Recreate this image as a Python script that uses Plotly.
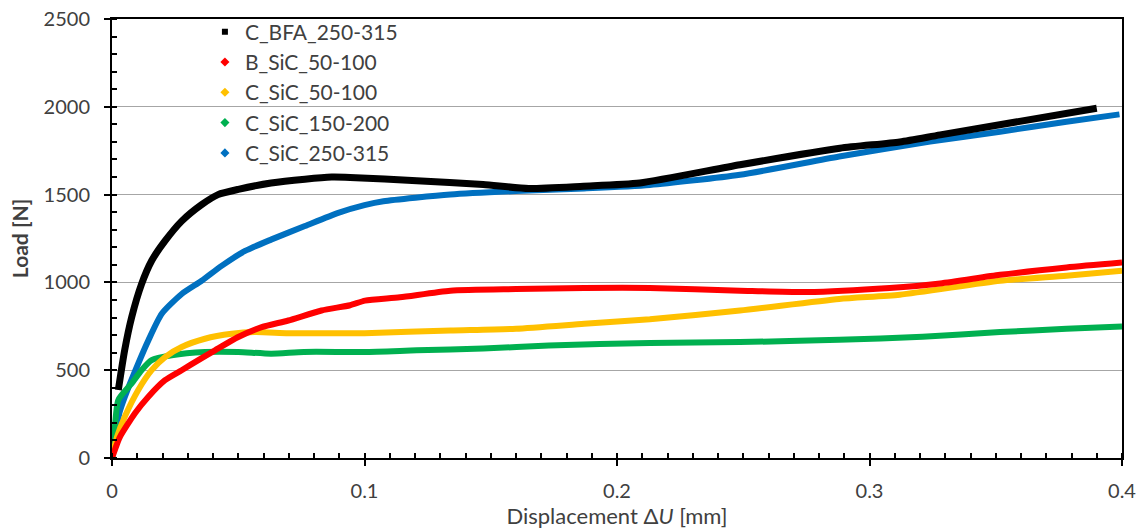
import plotly.graph_objects as go

# ---------------- data ----------------
bfa_x = [0.0025, 0.005, 0.0078, 0.0117, 0.0157, 0.021, 0.0276, 0.0355, 0.042, 0.050, 0.063,
         0.0764, 0.087, 0.0943, 0.1207, 0.147, 0.165, 0.1867, 0.209, 0.2487, 0.2883, 0.312,
         0.328, 0.39]
bfa_y = [387, 613, 802, 990, 1123, 1236, 1349, 1443, 1500, 1530, 1566,
         1588, 1600, 1598, 1579, 1557, 1535, 1548, 1566, 1670, 1764, 1800,
         1840, 1992]

b50_x = [0.0, 0.002, 0.0032, 0.0091, 0.0144, 0.021, 0.0276, 0.0342, 0.0408, 0.050, 0.0593,
         0.0698, 0.083, 0.0943, 0.1002, 0.114, 0.134, 0.160, 0.187, 0.213, 0.2487, 0.275,
         0.308, 0.328, 0.3517, 0.378, 0.4]
b50_y = [0, 80, 122, 255, 349, 443, 500, 557, 613, 689, 745,
         783, 840, 870, 896, 915, 953, 962, 968, 968, 953, 945,
         968, 994, 1043, 1085, 1113]

c50_x = [0.0, 0.002, 0.0051, 0.0104, 0.0157, 0.021, 0.0276, 0.0368, 0.0474, 0.0566, 0.0698,
         0.0896, 0.100, 0.134, 0.160, 0.187, 0.213, 0.2487, 0.288, 0.312, 0.3517, 0.378, 0.4]
c50_y = [0, 120, 236, 387, 500, 575, 632, 679, 707, 717, 711,
         711, 711, 726, 736, 764, 790, 840, 906, 930, 1009, 1038, 1066]

c150_x = [0.0, 0.001, 0.0025, 0.0078, 0.0117, 0.0157, 0.0236, 0.0368, 0.050, 0.063, 0.076,
          0.100, 0.1207, 0.147, 0.173, 0.213, 0.2487, 0.288, 0.321, 0.3517, 0.378, 0.4]
c150_y = [0, 150, 330, 425, 500, 557, 585, 604, 604, 594, 604,
          604, 613, 623, 641, 655, 660, 673, 690, 717, 736, 749]

c250_x = [0.0, 0.0012, 0.003, 0.0051, 0.0104, 0.0144, 0.0197, 0.0276, 0.0355, 0.0434, 0.0527,
          0.0632, 0.0764, 0.0896, 0.100, 0.1075, 0.134, 0.160, 0.187, 0.213, 0.2487, 0.288,
          0.324, 0.3517, 0.378, 0.399]
c250_y = [0, 120, 260, 349, 538, 670, 821, 934, 1009, 1094, 1179,
          1245, 1321, 1396, 1440, 1462, 1500, 1520, 1535, 1555, 1613, 1717,
          1802, 1858, 1915, 1957]

series_names = ["C_BFA_250-315", "B_SiC_50-100", "C_SiC_50-100", "C_SiC_150-200", "C_SiC_250-315"]
series_colors = ["#000000", "#ff0000", "#ffc000", "#00b050", "#0070c0"]
series_symbols = ["square", "diamond", "diamond", "diamond", "diamond"]

x_ticks = [0, 0.1, 0.2, 0.3, 0.4]
y_ticks = [0, 500, 1000, 1500, 2000, 2500]

# ---------------- figure ----------------
fig = go.Figure()
data = [(bfa_x, bfa_y, 7), (b50_x, b50_y, 6), (c50_x, c50_y, 6), (c150_x, c150_y, 6), (c250_x, c250_y, 6)]
order = [4, 3, 2, 1, 0]
for i in order:
    xs, ys, w = data[i]
    fig.add_trace(go.Scatter(x=xs, y=ys, mode="lines",
                             line=dict(color=series_colors[i], width=w, shape="spline", smoothing=0.6),
                             showlegend=False, hoverinfo="skip"))
for i in range(5):
    fig.add_trace(go.Scatter(x=[None], y=[None], mode="markers", name=series_names[i],
                             legendgroup=series_names[i],
                             marker=dict(color=series_colors[i], symbol=series_symbols[i],
                                         size=6 if i == 0 else 7)))

font_family = "Lato, 'Open Sans', sans-serif"
fig.update_layout(
    width=1142, height=531,
    margin=dict(l=112, r=20, t=17, b=73),
    paper_bgcolor="white", plot_bgcolor="white",
    font=dict(family=font_family, size=20, color="#404040"),
    legend=dict(x=0.092, y=1.017, xanchor="left", yanchor="top",
                bgcolor="rgba(0,0,0,0)", font=dict(size=21, color="#404040"),
                tracegroupgap=3, itemwidth=30, traceorder="normal"),
    showlegend=True,
)
fig.update_xaxes(
    range=[0, 0.4], tickvals=x_ticks,
    showline=True, linecolor="black", linewidth=2, mirror=True,
    ticks="outside", ticklen=6, tickwidth=2, tickcolor="black",
    minor=dict(dtick=0.01, ticks="inside", ticklen=5, tickwidth=1.5, tickcolor="black", showgrid=False),
    showgrid=False, zeroline=False, automargin=False,
    ticklabelstandoff=8,
    title=dict(text="Displacement Δ<i>U</i> [mm]", font=dict(size=22, color="#404040"), standoff=2),
    tickfont=dict(size=20),
)
fig.update_yaxes(
    range=[0, 2500], tickvals=y_ticks,
    showline=True, linecolor="black", linewidth=2, mirror=True,
    ticks="outside", ticklen=6, tickwidth=2, tickcolor="black",
    minor=dict(dtick=100, ticks="inside", ticklen=5, tickwidth=1.5, tickcolor="black", showgrid=False),
    showgrid=True, gridcolor="#a6a6a6", gridwidth=1.2, zeroline=False, automargin=False,
    ticklabelstandoff=10,
    title=dict(text="<b>Load [N]</b>", font=dict(size=21, color="#404040"), standoff=9),
    tickfont=dict(size=20),
)

fig.write_html("out.html", config={"displayModeBar": False},
               post_script="document.body.style.margin='0';document.body.style.padding='0';")
